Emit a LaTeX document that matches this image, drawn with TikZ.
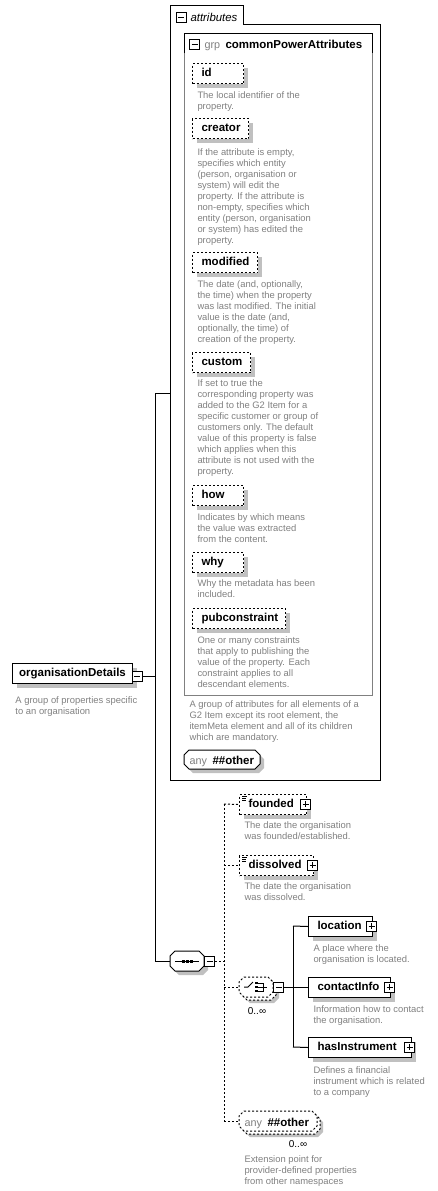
\documentclass[tikz,border=0pt]{standalone}
\usepackage{fontspec}
\setmainfont{Liberation Sans}
\usetikzlibrary{shadows}
\definecolor{descgray}{RGB}{128,128,128}
\definecolor{shadowgray}{RGB}{192,192,192}
\definecolor{grpgray}{RGB}{128,128,128}
\newcommand\descfont{\fontsize{9.4}{11}\selectfont}
\newcommand\lblfont{\fontsize{11.5}{13}\selectfont\bfseries}
\newcommand\grayfont{\fontsize{10.8}{13}\selectfont}
\newcommand\multfont{\fontsize{10}{12}\selectfont}
\tikzset{
  box/.style={anchor=north west, minimum height=20pt, inner xsep=9pt, inner ysep=0pt, font=\lblfont,
    text height=8.5pt, text depth=2.5pt, fill=white, draw=black, line width=1pt,
    drop shadow={shadow xshift=4pt, shadow yshift=-4pt, fill=shadowgray, opacity=1}},
  solidbox/.style={box},
  dashbox/.style={box, dash pattern=on 2pt off 2pt},
  pm/.style={draw=black, fill=white, minimum size=10pt, inner sep=0pt, line width=1pt},
  minusbox/.style={pm, path picture={\draw[line width=1pt] ([xshift=2pt]path picture bounding box.west) -- ([xshift=-2pt]path picture bounding box.east);}},
  plusbox/.style={pm, path picture={\draw[line width=1pt] ([xshift=2pt]path picture bounding box.west) -- ([xshift=-2pt]path picture bounding box.east); \draw[line width=1pt] ([yshift=-2pt]path picture bounding box.north) -- ([yshift=2pt]path picture bounding box.south);}},
  descr/.style={font=\descfont, text=descgray, align=left, anchor=north west, inner sep=0pt, yshift=6.8pt},
  dashline/.style={dash pattern=on 2pt off 2pt},
  txt/.style={anchor=base west, inner sep=0pt},
  mult/.style={anchor=base, inner sep=0pt, font=\multfont},
  pics/octa/.style args={#1/#2/#3/#4}{code={\path[pic actions] (#1+5,#2) -- (#3-5,#2) -- (#3,#2+5) -- (#3,#4-5) -- (#3-5,#4) -- (#1+5,#4) -- (#1,#4-5) -- (#1,#2+5) -- cycle;}}
}
\begin{document}
\begin{tikzpicture}[x=1pt,y=-1pt,line width=1pt]
\useasboundingbox (0,0) rectangle (438,1191);

% ---------- attributes container ----------
\draw (170,780) -- (170,5) -- (243,5) -- (243,24) -- (380,24) -- (380,780) -- cycle;
\node[minusbox] (attrm) at (181,17) {};
\node[txt, font=\fontsize{11.4}{13}\selectfont\itshape] (attrt) at (190,21) {attributes};

% group box
\draw[grpgray] (184,33) rectangle (372,695);
\draw (184,53) -- (184,33) -- (372,33) -- (372,53);
\node[minusbox] (grpm) at (194.5,44) {};
\node[txt, font=\grayfont, text=descgray] (grpk) at (204,48) {grp};
\node[txt, font=\lblfont] (grpt) at (225,48) {commonPowerAttributes};

% attributes
\node[dashbox] (id) at (192,63) {\makebox[33pt][l]{id}};
\node[descr] (did) at (197,98) {The local identifier of the\\property.};

\node[dashbox] (creator) at (192,118) {\makebox[38pt][l]{creator}};
\node[descr] (dcreator) at (197,155) {If the attribute is empty,\\specifies which entity\\(person, organisation or\\system) will edit the\\property. If the attribute is\\non-empty, specifies which\\entity (person, organisation\\or system) has edited the\\property.};

\node[dashbox] (modified) at (192,252) {\makebox[47pt][l]{modified}};
\node[descr] (dmodified) at (197,287) {The date (and, optionally,\\the time) when the property\\was last modified. The initial\\value is the date (and,\\optionally, the time) of\\creation of the property.};

\node[dashbox] (custom) at (192,352) {\makebox[40pt][l]{custom}};
\node[descr] (dcustom) at (197,386) {If set to true the\\corresponding property was\\added to the G2 Item for a\\specific customer or group of\\customers only. The default\\value of this property is false\\which applies when this\\attribute is not used with the\\property.};

\node[dashbox] (how) at (192,485) {\makebox[33pt][l]{how}};
\node[descr] (dhow) at (197,520) {Indicates by which means\\the value was extracted\\from the content.};

\node[dashbox] (why) at (192,552) {\makebox[33pt][l]{why}};
\node[descr] (dwhy) at (197,586) {Why the metadata has been\\included.};

\node[dashbox] (pubc) at (192,608) {\makebox[75pt][l]{pubconstraint}};
\node[descr] (dpubc) at (197,643) {One or many constraints\\that apply to publishing the\\value of the property. Each\\constraint applies to all\\descendant elements.};

\node[descr] (dgrp) at (189,707) {A group of attributes for all elements of a\\G2 Item except its root element, the\\itemMeta element and all of its children\\which are mandatory.};

% any ##other inside attributes
\pic[fill=shadowgray] at (4,4) {octa=184/750/260/769};
\pic[draw, fill=white] at (0,0) {octa=184/750/260/769};
\node[txt, font=\grayfont, text=descgray] (anyAk) at (189,764) {any};
\node[txt, font=\lblfont] (anyAt) at (212,764) {\#\#other};

% ---------- root element ----------
\node[solidbox, inner xsep=0pt, minimum width=120pt] (od) at (12,663) {organisationDetails};
\node[minusbox] (odm) at (137,676) {};
\node[descr] (dod) at (15,703) {A group of properties specific\\to an organisation};

\coordinate (trunkTop) at (155,393);
\coordinate (trunkBot) at (155,961);
\coordinate (attrIn) at (170,393);
\coordinate (seqIn) at (170,961);
\draw (odm.east) -- (odm.east -| trunkTop);
\draw (trunkTop) -- (trunkBot);
\draw (trunkTop) -- (attrIn);
\draw (trunkBot) -- (seqIn);

% ---------- sequence ----------
\pic[fill=shadowgray] at (4,4) {octa=170/951/204/971};
\pic[draw, fill=white] at (0,0) {octa=170/951/204/971};
\draw (175,961) -- (199,961);
\fill (182,959.5) rectangle ++(3,3);
\fill (186,959.5) rectangle ++(3,3);
\fill (190,959.5) rectangle ++(3,3);
\node[minusbox] (seqm) at (209.5,961) {};

\coordinate (dvTop) at (224,804);
\coordinate (dvBot) at (224,1121);
\coordinate (chIn) at (239,987);
\coordinate (anyIn) at (239,1121);

% founded / dissolved
\node[dashbox] (founded) at (239,794) {\makebox[49pt][l]{founded}};
\node[plusbox] (foundedp) at (305.5,804) {};
\draw[line width=0.7pt] (242,796) -- (247,796) (242,798) -- (246,798) (242,800) -- (246,800);
\node[descr] (dfounded) at (244,828) {The date the organisation\\was founded/established.};

\node[dashbox] (dissolved) at (239,855) {\makebox[56pt][l]{dissolved}};
\node[plusbox] (dissolvedp) at (312.5,865) {};
\draw[line width=0.7pt] (242,857) -- (247,857) (242,859) -- (246,859) (242,861) -- (246,861);
\node[descr] (ddissolved) at (244,889) {The date the organisation\\was dissolved.};

\draw[dashline] (seqm.east) -- (seqm.east -| dvTop);
\draw[dashline] (dvTop) -- (dvBot);
\draw[dashline] (dvTop) -- (founded.west);
\draw[dashline] (dissolved.west -| dvTop) -- (dissolved.west);
\draw[dashline] (chIn -| dvTop) -- (chIn);
\draw[dashline] (dvBot) -- (anyIn);

% ---------- choice ----------
\pic[fill=shadowgray] at (6,6) {octa=239/977/273/997};
\pic[draw, fill=white, dashline] at (3,3) {octa=239/977/273/997};
\pic[draw, fill=white, dashline] at (0,0) {octa=239/977/273/997};
\draw (244,987) -- (248,987) -- (253,982);
\fill (255,981.8) rectangle ++(2.5,2.5);
\fill (255,985.8) rectangle ++(2.5,2.5);
\fill (255,989.8) rectangle ++(2.5,2.5);
\draw (257.5,983) -- (263,983) -- (263,991) -- (257.5,991) (257.5,987) -- (267,987);
\node[minusbox] (chm) at (278.5,987) {};
\node[mult] (chmult) at (257,1014) {0..∞};

\coordinate (cvTop) at (293,926);
\coordinate (cvBot) at (293,1047);

\node[solidbox] (location) at (308,916) {\makebox[46pt][l]{location}};
\node[plusbox] (locationp) at (371.5,926) {};
\node[descr] (dlocation) at (313,951) {A place where the\\organisation is located.};

\node[solidbox] (contact) at (308,977) {\makebox[64pt][l]{contactInfo}};
\node[plusbox] (contactp) at (389.5,987) {};
\node[descr] (dcontact) at (313,1012) {Information how to contact\\the organisation.};

\node[solidbox] (hasinst) at (308,1037) {\makebox[85pt][l]{hasInstrument}};
\node[plusbox] (hasinstp) at (409.5,1047) {};
\node[descr] (dhasinst) at (313,1073) {Defines a financial\\instrument which is related\\to a company};

\draw (chm.east) -- (chm.east -| cvTop);
\draw (cvTop) -- (cvBot);
\draw (cvTop) -- (location.west);
\draw (contact.west -| cvTop) -- (contact.west);
\draw (cvBot) -- (hasinst.west);

% ---------- any ##other (bottom) ----------
\pic[fill=shadowgray] at (6,6) {octa=239/1111/317/1131};
\pic[draw, fill=white, dashline] at (3,3) {octa=239/1111/317/1131};
\pic[draw, fill=white, dashline] at (0,0) {octa=239/1111/317/1131};
\node[txt, font=\grayfont, text=descgray] (anyBk) at (244,1126) {any};
\node[txt, font=\lblfont] (anyBt) at (267,1126) {\#\#other};
\node[mult] (anyBmult) at (298,1147) {0..∞};
\node[descr] (danyB) at (244,1162) {Extension point for\\provider-defined properties\\from other namespaces};

\end{tikzpicture}
\end{document}
